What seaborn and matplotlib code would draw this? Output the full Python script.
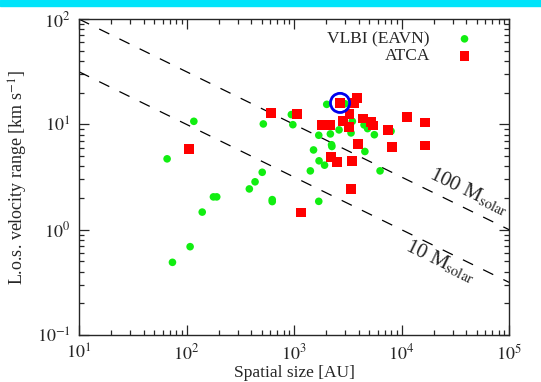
import numpy as np
import pandas as pd
import matplotlib
matplotlib.use("Agg")
import matplotlib.pyplot as plt
import seaborn as sns
from matplotlib.patches import Rectangle

# -----------------------------
# Data
# -----------------------------
vlbi_size = [117, 66, 518, 944, 975, 506, 434, 384, 178, 191, 140, 627, 627,
             108, 74, 2014, 2980, 3486, 2622, 3390, 1698, 2177, 2233, 2249,
             4479, 4829, 5585, 7985, 1518, 4560, 1709, 1922, 1418, 6310, 1698]
vlbi_vel = [10.7, 4.71, 10.1, 12.4, 9.94, 3.51, 2.85, 2.44, 2.05, 2.05, 1.47,
            1.93, 1.85, 0.69, 0.49, 15.5, 15.7, 10.7, 8.87, 8.30, 7.89, 8.12,
            6.41, 6.17, 9.89, 9.12, 7.98, 8.63, 5.72, 5.53, 4.51, 4.10, 3.62,
            3.62, 1.86]

atca_size = [105, 607, 1059, 1154, 2679, 3830, 3590, 3268, 2838, 1810, 2162,
             3228, 4385, 5167, 5433, 7445, 11170, 16550, 3915, 8165, 16550,
             2195, 2512, 3465, 3390]
atca_vel = [5.82, 12.8, 12.5, 1.46, 16.0, 17.8, 16.0, 12.6, 10.7, 9.85, 9.85,
            9.42, 11.4, 10.5, 9.78, 8.83, 11.7, 10.4, 6.49, 6.08, 6.31, 4.89,
            4.38, 4.47, 2.42]

# highlighted source
circle_size = [2679]
circle_vel = [16.0]

# virial mass lines (solar masses): v = 100 km/s at 10 AU for 100 Msolar
line_masses = [100, 10]
line_labels = ["100 M$_{\\mathrm{solar}}$", "10 M$_{\\mathrm{solar}}$"]
label_pos = [(4.2e4, 2.3), (2.3e4, 0.5)]

df = pd.DataFrame({
    "size": vlbi_size + atca_size,
    "vel": vlbi_vel + atca_vel,
    "obs": ["VLBI (EAVN)"] * len(vlbi_size) + ["ATCA"] * len(atca_size),
})

# -----------------------------
# Plot
# -----------------------------
sns.set_style("ticks")
plt.rcParams["font.family"] = ["Liberation Serif", "DejaVu Serif"]
plt.rcParams["mathtext.fontset"] = "stix"

fig = plt.figure(figsize=(5.41, 3.82), dpi=100)
ax = fig.add_axes([0.146, 0.123, 0.795, 0.827])

xs = np.logspace(1, 5, 50)
for m in line_masses:
    ax.plot(xs, 100 * np.sqrt(m / 100) * (xs / 10) ** -0.5, color="black",
            lw=0.9, dashes=(9, 9), zorder=1)

sns.scatterplot(data=df[df.obs == "VLBI (EAVN)"], x="size", y="vel",
                color="#11ee11", marker="o", s=30, edgecolor="none",
                label="VLBI (EAVN)", ax=ax, zorder=2)
sns.scatterplot(data=df[df.obs == "ATCA"], x="size", y="vel",
                color="#ff0000", marker="s", s=48, edgecolor="none",
                label="ATCA", ax=ax, zorder=3)
ax.scatter(circle_size, circle_vel, s=190, facecolors="none",
           edgecolors="#0000ee", linewidths=2, zorder=4)

for lab, (px, py) in zip(line_labels, label_pos):
    ax.text(px, py, lab, rotation=-26, fontsize=15, ha="center",
            va="center", rotation_mode="anchor")

ax.set_xscale("log")
ax.set_yscale("log")
ax.set_xlim(10, 1e5)
ax.set_ylim(0.1, 100)
ax.set_xticks([1e1, 1e2, 1e3, 1e4, 1e5])
ax.set_xticklabels(["$10^{%d}$" % i for i in range(1, 6)])
ax.set_yticks([1e-1, 1e0, 1e1, 1e2])
ax.set_yticklabels(["$10^{%d}$" % i for i in range(-1, 3)])

ax.set_xlabel("Spatial size [AU]", fontsize=12.5, labelpad=1)
ax.set_ylabel("L.o.s. velocity range [km s$^{-1}$]", fontsize=13, labelpad=5)

ax.tick_params(which="both", direction="in", top=True, right=True,
               labelsize=13, width=0.9)
ax.tick_params(which="major", length=7, pad=6)
ax.tick_params(which="minor", length=3.5)
for sp in ax.spines.values():
    sp.set_linewidth(1.0)

leg = ax.legend(loc="upper right", frameon=False, markerfirst=False,
                fontsize=12.5, handletextpad=1.0, borderaxespad=0.3,
                labelspacing=0.05, bbox_to_anchor=(0.965, 1.0))

# cyan slide bar at the top
fig.patches.append(Rectangle((0, 1 - 6 / 382), 1, 6 / 382,
                             transform=fig.transFigure, color="#00e4fa",
                             zorder=10))

fig.savefig("out.png", dpi=100)
